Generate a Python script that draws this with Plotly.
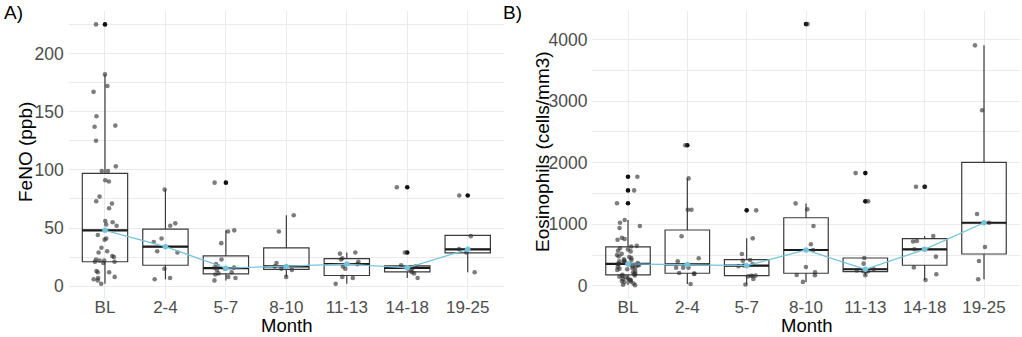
import numpy as np
import plotly.graph_objects as go

months = ["BL", "2-4", "5-7", "8-10", "11-13", "14-18", "19-25"]

# ---- Panel A: FeNO (ppb) ----
feno_bl = [225, 182, 172, 167, 146, 138, 137, 125, 103, 99, 99, 91, 90, 77, 73, 71, 67,
           56, 55, 53, 52, 44, 41, 40, 33, 30, 29, 26, 25, 23, 22, 22, 21, 21, 20, 13,
           12, 12, 8, 7, 6, 5, 2]
feno_2_4 = [83, 54, 52, 41, 38, 30, 29, 15, 7, 6]
feno_5_7 = [89, 48, 47, 37, 23, 19, 17, 16, 16, 15, 14, 12, 11, 10, 8, 7, 5]
feno_8_10 = [61, 47, 20, 17, 15, 14, 8]
feno_11_13 = [29, 28, 24, 23, 21, 19, 17, 15, 8, 7, 2]
feno_14_18 = [85, 29, 18, 17, 16, 15, 14, 12, 11, 7]
feno_19_25 = [78, 43, 32, 29, 12]
feno_groups = [feno_bl, feno_2_4, feno_5_7, feno_8_10, feno_11_13, feno_14_18, feno_19_25]

feno_q1 = [21, 18, 10.6, 14.5, 9.2, 12.3, 28.6]
feno_med = [48, 34, 15.5, 17, 19, 15.8, 31.7]
feno_q3 = [97, 49, 26, 33, 23.7, 17.5, 43.7]
feno_lo = [2, 6, 5, 8, 2, 7, 12]
feno_hi = [182, 83, 48, 61, 29, 18, 43.7]
feno_outliers = [[225], [], [89], [], [], [85, 29], [78]]

# ---- Panel B: Eosinophils (cells/mm3) ----
eos_bl = [1770, 1550, 1340, 1069, 1025, 972, 939, 780, 760, 750, 650, 640, 610, 590, 570,
          560, 520, 500, 480, 470, 450, 430, 420, 410, 400, 390, 380, 370, 360, 356, 350,
          340, 330, 320, 310, 300, 290, 280, 270, 260, 240, 220, 200, 190, 180, 170, 160,
          150, 140, 120, 110, 100, 90, 80, 70, 60, 40, 20, 10]
eos_2_4 = [2283, 1744, 1236, 1236, 805, 449, 400, 296, 296, 296, 210, 200, 195, 32]
eos_5_7 = [1226, 772, 518, 421, 410, 356, 330, 320, 167, 165, 160, 155, 113, 22]
eos_8_10 = [4248, 1339, 1242, 972, 675, 583, 308, 222, 178, 173, 65]
eos_11_13 = [1830, 1372, 453, 361, 270, 250, 238, 238, 232, 173]
eos_14_18 = [1608, 1608, 810, 729, 720, 594, 594, 475, 300, 189, 97]
eos_19_25 = [3903, 2850, 1166, 1025, 632, 405, 108]
eos_groups = [eos_bl, eos_2_4, eos_5_7, eos_8_10, eos_11_13, eos_14_18, eos_19_25]

eos_q1 = [178, 205, 167, 205, 232, 335, 518]
eos_med = [356, 348, 329, 583, 270, 594, 1025]
eos_q3 = [632, 907, 426, 1106, 453, 766, 2003]
eos_lo = [16, 32, 22, 65, 173, 97, 108]
eos_hi = [1069, 1744, 772, 1339, 453, 810, 3903]
eos_outliers = [[1770, 1550, 1340], [2283], [1226], [4248], [1830, 1372], [1608], []]

# ---- styling ----
W, H = 1022, 337
FONT = "Liberation Sans, Arial, sans-serif"
BOX_LINE = "#3a3a3a"
PT_COLOR = "rgba(45,45,45,0.62)"
MED_COLOR = "#74C3DA"
GRID = "#EBEBEB"
BOX_W = 0.75
pos = list(range(1, len(months) + 1))
rng = np.random.default_rng(11)

fig = go.Figure()


def add_panel(groups, q1, med, q3, lo, hi, outliers, xa, ya):
    xref = "x" if xa == "" else "x" + xa
    yref = "y" if ya == "" else "y" + ya
    fig.add_trace(go.Box(
        x=pos, q1=q1, median=med, q3=q3, lowerfence=lo, upperfence=hi,
        width=BOX_W, whiskerwidth=0, boxpoints=False,
        line=dict(color=BOX_LINE, width=1.2), fillcolor="rgba(255,255,255,0)",
        xaxis=xref, yaxis=yref, showlegend=False, hoverinfo="skip"))
    # thick median segments (ggplot fatten)
    mx, my = [], []
    for p, m in zip(pos, med):
        mx += [p - BOX_W / 2, p + BOX_W / 2, None]
        my += [m, m, None]
    fig.add_trace(go.Scatter(x=mx, y=my, mode="lines",
                             line=dict(color="#1a1a1a", width=2.2),
                             xaxis=xref, yaxis=yref, showlegend=False, hoverinfo="skip"))
    # outliers (black, at category centre)
    ox, oy = [], []
    for p, outs in zip(pos, outliers):
        ox += [p] * len(outs)
        oy += outs
    fig.add_trace(go.Scatter(x=ox, y=oy, mode="markers",
                             marker=dict(color="#111111", size=4.6),
                             xaxis=xref, yaxis=yref, showlegend=False, hoverinfo="skip"))
    # jittered points
    jx, jy = [], []
    for p, vals in zip(pos, groups):
        off = rng.uniform(-0.2, 0.2, len(vals))
        jx += list(p + off)
        jy += vals
    fig.add_trace(go.Scatter(x=jx, y=jy, mode="markers",
                             marker=dict(color=PT_COLOR, size=4.6),
                             xaxis=xref, yaxis=yref, showlegend=False, hoverinfo="skip"))
    # median trend line
    fig.add_trace(go.Scatter(x=pos, y=med, mode="lines+markers",
                             line=dict(color=MED_COLOR, width=1.3),
                             marker=dict(color=MED_COLOR, size=5.5),
                             xaxis=xref, yaxis=yref, showlegend=False, hoverinfo="skip"))


add_panel(feno_groups, feno_q1, feno_med, feno_q3, feno_lo, feno_hi, feno_outliers, "", "")
add_panel(eos_groups, eos_q1, eos_med, eos_q3, eos_lo, eos_hi, eos_outliers, "2", "2")

YDOM = [1 - 299 / H, 1 - 11 / H]
xax = dict(range=[0.4, 7.6], tickmode="array", tickvals=pos, ticktext=months,
           showgrid=True, gridcolor=GRID, gridwidth=1, zeroline=False, showline=False,
           ticks="", automargin=False, ticklabelstandoff=-4,
           tickfont=dict(family=FONT, size=17, color="#4D4D4D"))
yax_common = dict(showgrid=True, gridcolor=GRID, gridwidth=1, zeroline=False, showline=False,
                  ticks="", automargin=False, domain=YDOM,
                  tickfont=dict(family=FONT, size=17.5, color="#4D4D4D"),
                  ticklabelstandoff=4)

fig.update_layout(
    width=W, height=H,
    margin=dict(l=0, r=0, t=0, b=0, autoexpand=False),
    paper_bgcolor="white", plot_bgcolor="white",
    xaxis=dict(xax, domain=[68.7 / W, 504 / W], anchor="y"),
    xaxis2=dict(xax, domain=[592.4 / W, 1019.6 / W], anchor="y2"),
    yaxis=dict(yax_common, range=[-11, 236.5], tickvals=[0, 50, 100, 150, 200],
               minor=dict(dtick=25, tick0=0, showgrid=True, gridcolor=GRID, gridwidth=0.6),
               anchor="x"),
    yaxis2=dict(yax_common, range=[-212.4, 4460.4], tickvals=[0, 1000, 2000, 3000, 4000],
                minor=dict(dtick=500, tick0=0, showgrid=True, gridcolor=GRID, gridwidth=0.6),
                anchor="x2"),
    font=dict(family=FONT, color="black"),
)

ann = [
    dict(text="A)", x=3 / W, y=1 - 12 / H, xanchor="left", yanchor="middle", font_size=19),
    dict(text="B)", x=502 / W, y=1 - 12 / H, xanchor="left", yanchor="middle", font_size=19),
    dict(text="FeNO (ppb)", x=25 / W, y=1 - 152 / H, textangle=-90,
         xanchor="center", yanchor="middle", font_size=19),
    dict(text="Eosinophils (cells/mm3)", x=542 / W, y=1 - 152 / H, textangle=-90,
         xanchor="center", yanchor="middle", font_size=19),
    dict(text="Month", x=286.5 / W, y=0, xanchor="center", yanchor="bottom", font_size=18.5),
    dict(text="Month", x=806 / W, y=0, xanchor="center", yanchor="bottom", font_size=18.5),
]
for a in ann:
    a.update(xref="paper", yref="paper", showarrow=False, borderpad=0)
    a["font"] = dict(family=FONT, size=a.pop("font_size"), color="black")
fig.update_layout(annotations=ann)

fig.write_html("out.html",
               config={"displayModeBar": False},
               post_script="document.body.style.margin='0';document.body.style.overflow='hidden';")
